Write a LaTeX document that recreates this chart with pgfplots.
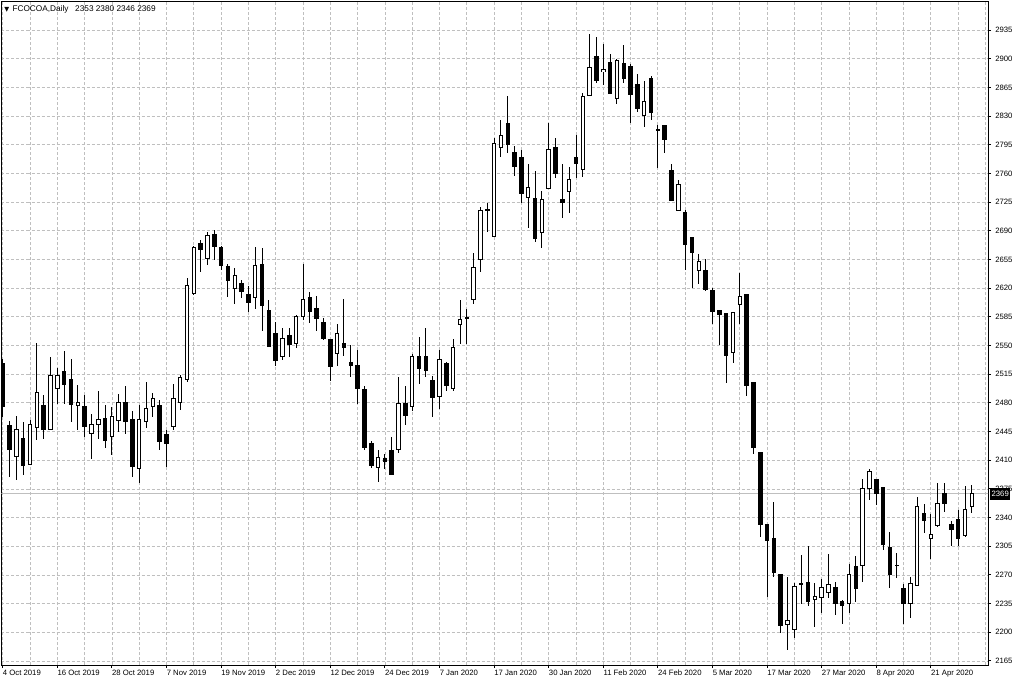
\documentclass[border=0pt]{standalone}
\usepackage{pgfplots}
\pgfplotsset{compat=1.18}
\usepackage{pgfplotstable}
\usepackage{fontspec}
\setmainfont{Liberation Sans}
\newfontfamily\symfont{DejaVu Sans}

\pgfplotstableread{
i O H L C
0 2528 2533 2463 2475
1 2452 2458 2390 2423
3 2437 2457 2392 2404
6 2477 2490 2436 2448
9 2518 2543 2479 2503
10 2508 2534 2457 2478
12 2475 2490 2438 2451
15 2461 2477 2425 2434
18 2481 2501 2442 2457
19 2460 2470 2389 2402
23 2477 2483 2422 2433
24 2442 2447 2402 2431
29 2675 2679 2640 2667
31 2685 2691 2654 2671
32 2669 2671 2642 2648
33 2646 2649 2609 2629
35 2626 2630 2608 2616
36 2612 2623 2591 2603
38 2649 2669 2568 2599
39 2593 2605 2548 2549
40 2565 2579 2525 2532
42 2562 2571 2536 2551
45 2608 2615 2577 2591
46 2595 2610 2568 2583
47 2578 2584 2557 2558
48 2557 2558 2507 2524
50 2553 2607 2537 2547
51 2529 2551 2511 2526
52 2526 2545 2479 2497
53 2496 2500 2422 2426
54 2431 2433 2401 2403
56 2412 2418 2399 2408
57 2422 2438 2393 2393
59 2479 2501 2453 2464
61 2537 2560 2503 2522
62 2536 2571 2511 2519
63 2507 2513 2463 2487
65 2528 2530 2494 2501
71 2716 2724 2688 2715
74 2821 2855 2785 2795
75 2785 2793 2757 2769
76 2779 2789 2724 2736
78 2730 2763 2676 2681
81 2792 2803 2755 2760
82 2728 2772 2706 2724
84 2780 2807 2754 2772
87 2903 2926 2870 2873
89 2895 2906 2858 2858
91 2894 2917 2870 2876
92 2891 2894 2821 2856
93 2868 2881 2835 2839
95 2876 2879 2825 2834
96 2814 2819 2767 2813
97 2819 2819 2785 2802
98 2763 2772 2726 2727
100 2712 2715 2642 2673
101 2682 2682 2620 2664
103 2641 2655 2616 2618
104 2617 2620 2576 2591
105 2593 2593 2551 2588
106 2589 2589 2504 2538
109 2612 2612 2488 2501
110 2505 2505 2418 2426
111 2419 2419 2316 2332
112 2332 2332 2243 2312
113 2314 2359 2267 2273
114 2271 2271 2199 2208
117 2259 2294 2235 2259
118 2261 2305 2232 2237
122 2255 2262 2221 2235
123 2237 2240 2210 2233
125 2280 2293 2237 2253
128 2387 2387 2355 2369
129 2377 2377 2301 2307
130 2304 2322 2254 2271
131 2282 2297 2266 2282
132 2254 2259 2210 2235
135 2345 2356 2321 2337
138 2369 2382 2347 2357
139 2331 2336 2305 2325
140 2338 2349 2305 2314
}\bear

\pgfplotstableread{
i O H L C
2 2415 2464 2386 2448
4 2405 2459 2404 2454
5 2450 2553 2435 2493
7 2448 2536 2447 2513
8 2497 2522 2479 2514
11 2477 2502 2447 2481
13 2443 2467 2412 2454
14 2454 2495 2436 2460
16 2439 2475 2416 2463
17 2459 2491 2445 2481
20 2400 2477 2382 2460
21 2457 2505 2449 2473
22 2475 2492 2463 2485
25 2451 2503 2447 2485
26 2481 2514 2471 2511
27 2508 2632 2506 2623
28 2614 2671 2612 2669
30 2656 2688 2648 2684
34 2620 2645 2601 2636
37 2609 2670 2595 2648
41 2536 2571 2532 2559
43 2553 2587 2547 2585
44 2586 2650 2581 2606
49 2540 2576 2525 2565
55 2401 2423 2384 2413
58 2423 2511 2419 2479
60 2475 2540 2470 2536
64 2488 2544 2472 2533
66 2498 2558 2495 2547
67 2576 2605 2552 2582
68 2583 2595 2552 2584
69 2606 2663 2601 2645
70 2655 2719 2640 2715
72 2683 2803 2682 2797
73 2792 2825 2780 2806
77 2731 2772 2693 2743
79 2688 2738 2669 2728
80 2742 2821 2742 2789
83 2738 2768 2712 2753
85 2765 2858 2756 2854
86 2855 2930 2855 2889
88 2884 2918 2868 2887
90 2852 2900 2845 2898
94 2831 2873 2817 2848
99 2715 2752 2715 2747
102 2642 2662 2625 2652
107 2542 2590 2529 2590
108 2600 2639 2576 2610
115 2210 2267 2179 2214
116 2204 2260 2193 2256
119 2240 2260 2207 2244
120 2243 2265 2224 2255
121 2248 2296 2242 2258
124 2235 2283 2224 2271
126 2282 2387 2262 2376
127 2375 2399 2361 2396
133 2235 2267 2218 2260
134 2257 2365 2257 2354
136 2315 2344 2289 2319
137 2330 2382 2329 2357
141 2318 2379 2316 2350
142 2353 2380 2346 2369
}\bull

\newcommand\tf{\fontsize{5.8pt}{6.8pt}\selectfont}

\begin{document}
\begin{tikzpicture}
\useasboundingbox (0,0) rectangle (768pt,512.25pt);
\fill[white] (0,0) rectangle (768pt,512.25pt);
\begin{axis}[
  at={(1.125pt,13.5pt)}, anchor=south west,
  scale only axis, width=739.875pt, height=497.625pt,
  xmin=-0.18, xmax=144.37, ymin=2160.1, ymax=2969.8,
  axis line style={black, line width=0.75pt},
  xtick={0,8,...,136},
  minor xtick={4,12,...,140},
  extra x ticks={144},
  extra x tick labels={},
  extra x tick style={major tick length=0pt, xmajorgrids=true},
  xticklabels={4 Oct 2019,16 Oct 2019,28 Oct 2019,7 Nov 2019,19 Nov 2019,2 Dec 2019,12 Dec 2019,24 Dec 2019,7 Jan 2020,17 Jan 2020,30 Jan 2020,11 Feb 2020,24 Feb 2020,5 Mar 2020,17 Mar 2020,27 Mar 2020,8 Apr 2020,21 Apr 2020},
  ytick={2165,2200,2235,2270,2305,2340,2375,2410,2445,2480,2515,2550,2585,2620,2655,2690,2725,2760,2795,2830,2865,2900,2935},
  yticklabels={2165,2200,2235,2270,2305,2340,2375,2410,2445,2480,2515,2550,2585,2620,2655,2690,2725,2760,2795,2830,2865,2900,2935},
  xtick pos=left, ytick pos=right, yticklabel pos=right,
  tick align=outside, major tick length=2.25pt, minor tick length=0pt,
  tick style={black, line width=0.75pt},
  xmajorgrids, xminorgrids, ymajorgrids,
  major grid style={gray!50, dash pattern=on 2.25pt off 1.5pt, line width=0.6pt},
  minor grid style={gray!50, dash pattern=on 2.25pt off 1.5pt, line width=0.6pt},
  yticklabel style={font=\tf, anchor=west, inner sep=0pt, xshift=3pt},
  xticklabel style={font=\tf, anchor=north west, inner sep=0pt, yshift=-1.5pt},
]
\addplot[gray!50, line width=0.75pt, forget plot] coordinates {(-1,2369) (146,2369)};
% wicks
\addplot[draw=none, mark=none, forget plot, error bars/.cd, y dir=both, y explicit, error mark=none,
  error bar style={draw=black, line width=0.7pt}]
  table[x=i, y expr={(\thisrow{H}+\thisrow{L})/2}, y error expr={(\thisrow{H}-\thisrow{L})/2}] {\bear};
\addplot[draw=none, mark=none, forget plot, error bars/.cd, y dir=both, y explicit, error mark=none,
  error bar style={draw=black, line width=0.7pt}]
  table[x=i, y expr={(\thisrow{H}+\thisrow{L})/2}, y error expr={(\thisrow{H}-\thisrow{L})/2}] {\bull};
% bodies
\addplot[draw=none, mark=none, forget plot, error bars/.cd, y dir=both, y explicit, error mark=none,
  error bar style={draw=black, line width=3.375pt}]
  table[x=i, y expr={(\thisrow{O}+\thisrow{C})/2}, y error expr={abs(\thisrow{O}-\thisrow{C})/2+0.61}] {\bear};
\addplot[draw=none, mark=none, forget plot, error bars/.cd, y dir=both, y explicit, error mark=none,
  error bar style={draw=black, line width=3.375pt}]
  table[x=i, y expr={(\thisrow{O}+\thisrow{C})/2}, y error expr={abs(\thisrow{O}-\thisrow{C})/2+0.61}] {\bull};
\addplot[draw=none, mark=none, forget plot, error bars/.cd, y dir=both, y explicit, error mark=none,
  error bar style={draw=white, line width=1.875pt}]
  table[x=i, y expr={(\thisrow{O}+\thisrow{C})/2}, y error expr={max(abs(\thisrow{O}-\thisrow{C})/2-0.61,0)}] {\bull};
\coordinate (pl) at (axis cs:144.37,2369);
\end{axis}
\node[fill=black, text=white, anchor=west, inner xsep=1pt, inner ysep=0pt, minimum height=9pt, font=\tf, xshift=1.5pt] at (pl) {2369};
\node[anchor=west, inner sep=0pt, font=\fontsize{6.2pt}{7pt}\selectfont] at (3pt,505.5pt) {{\symfont\fontsize{4.8pt}{5pt}\selectfont ▼}\hspace{2.5pt}FCOCOA,Daily\hspace{5pt}2353 2380 2346 2369};
\end{tikzpicture}
\end{document}
